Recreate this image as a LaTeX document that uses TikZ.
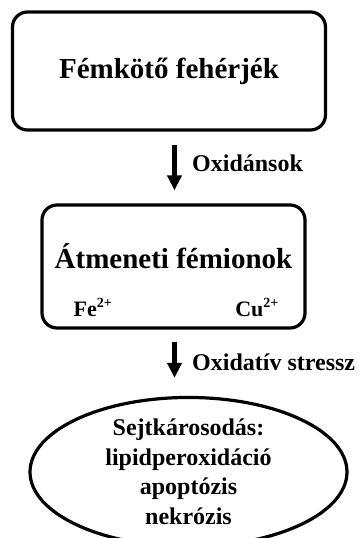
\documentclass[tikz,border=0pt]{standalone}
\usepackage{fontspec}
\setmainfont{Liberation Serif}
\usetikzlibrary{positioning,arrows.meta,shapes.geometric}

% charge written above the ion symbol
\newcommand{\chg}[1]{\raisebox{0.42em}{\fontsize{14}{14}\selectfont #1}}

\begin{document}
\begin{tikzpicture}[
    x=1pt, y=1pt,
    box/.style={draw, line width=3.2pt, rounded corners=15pt, inner sep=0pt},
    big/.style={font=\fontsize{29}{33}\selectfont\bfseries},
    lbl/.style={font=\fontsize{24}{28}\selectfont\bfseries, inner sep=0pt},
    ion/.style={font=\fontsize{22}{26}\selectfont\bfseries, inner sep=0pt},
    arr/.style={-{Triangle[length=15pt, width=14pt]}, line width=4.5pt},
    oval/.style={draw, ellipse, line width=3.2pt, inner sep=0pt, align=center,
                 font=\fontsize{24}{29.5}\selectfont\bfseries}
]
\useasboundingbox (0,0) rectangle (360,-538);

\node[box, big, minimum width=313pt, minimum height=118pt] (prot) at (169,-71) {Fémkötő fehérjék};
\node[box, minimum width=263pt, minimum height=123pt] (ions) at (173.5,-266.5) {};
\node[big, inner sep=0pt] (ionsT) at ([yshift=10pt]ions.center) {Átmeneti fémionok};
\node[ion, anchor=base west] (fe) at ([xshift=33pt, yshift=13pt]ions.south west) {Fe\chg{2+}};
\node[ion, anchor=base east] (cu) at ([xshift=-28pt, yshift=13pt]ions.south east) {Cu\chg{2+}};
\node[oval, minimum width=317pt, minimum height=138pt] (dmg) at (188.5,-472)
    {Sejtkárosodás:\\lipidperoxidáció\\apoptózis\\nekrózis};

\coordinate (a1) at (174.5,-130);
\coordinate (a2) at (174.5,-328);
\draw[arr, shorten <=15pt, shorten >=13pt] (a1) -- (a1 |- ions.north);
\draw[arr, shorten <=14pt, shorten >=18pt] (a2) -- (a2 |- dmg.north);

\node[lbl, anchor=west] (ox) at (192,-163) {Oxidánsok};
\node[lbl, anchor=west] (st) at (192,-362) {Oxidatív stressz};

\end{tikzpicture}
\end{document}
